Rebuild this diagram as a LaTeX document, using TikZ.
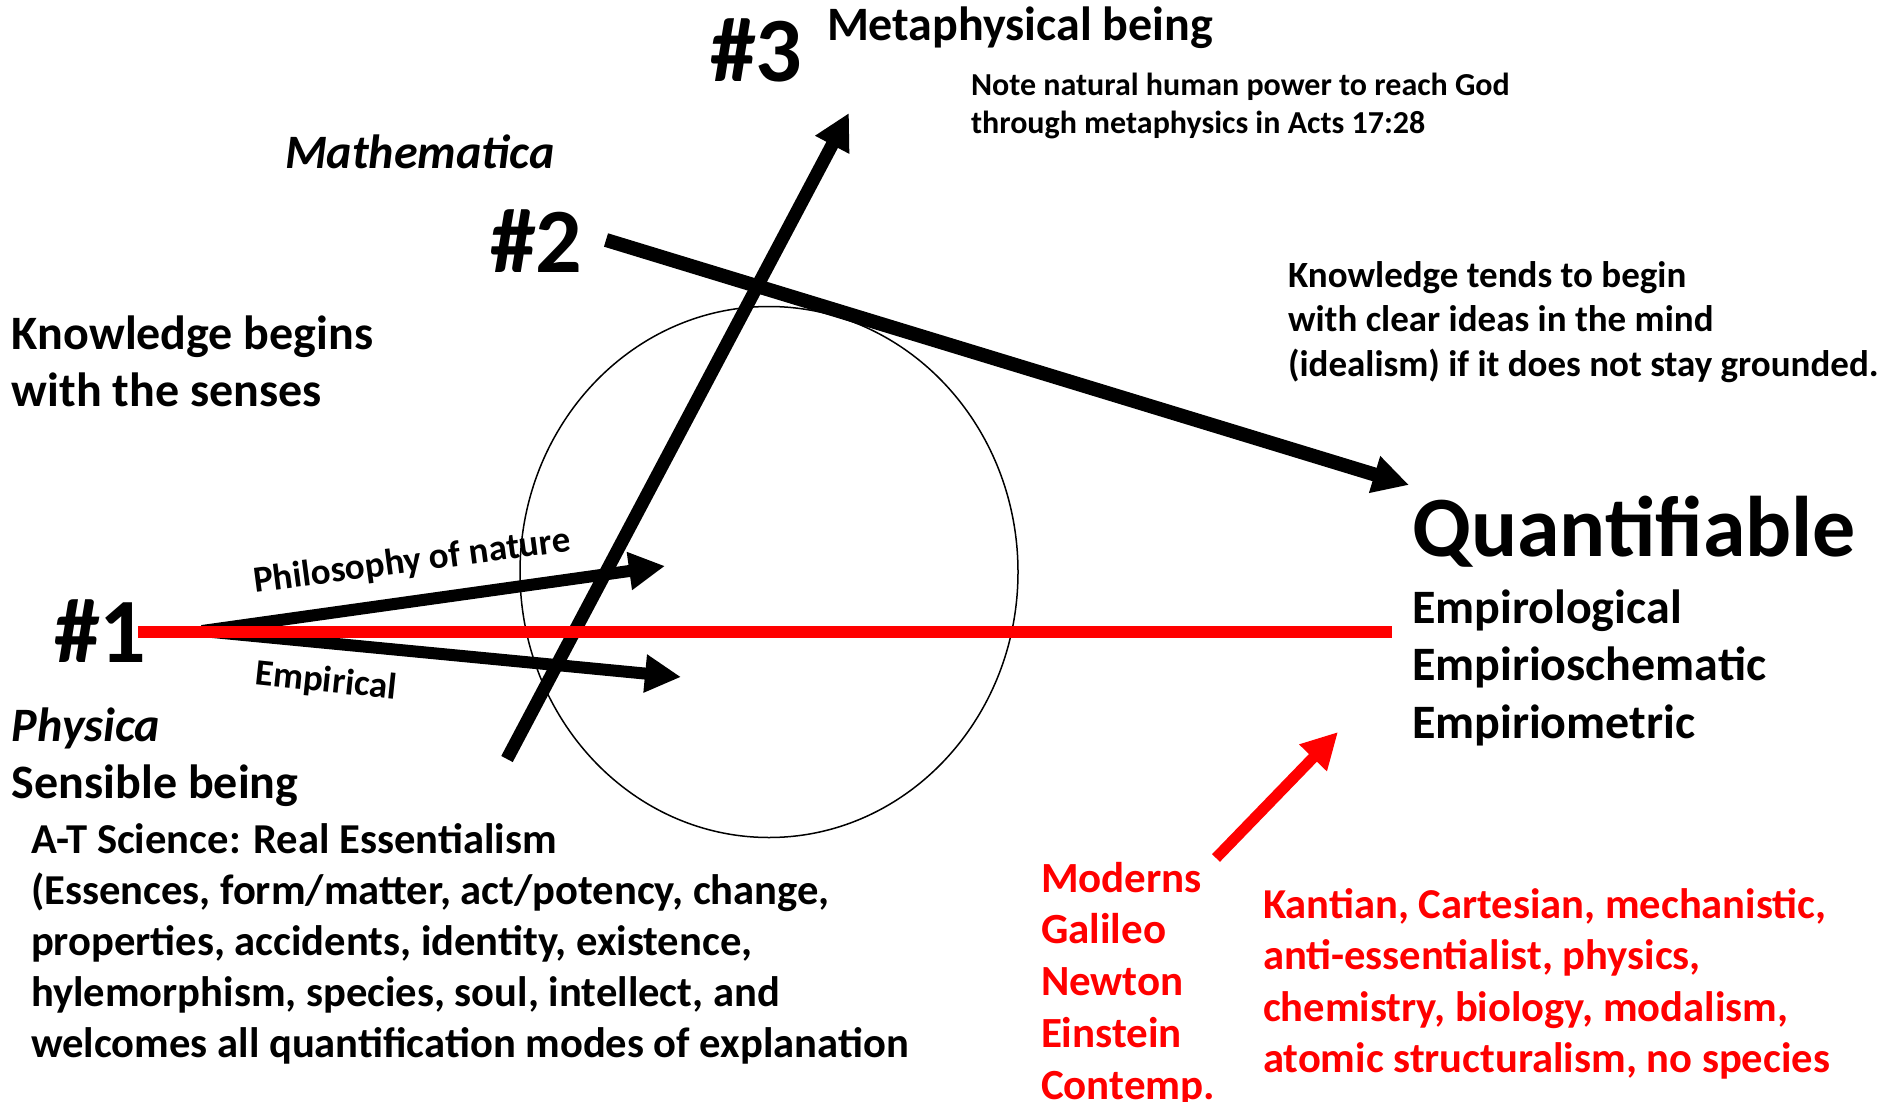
\documentclass[tikz,border=0pt]{standalone}
\usepackage{fontspec}
\setmainfont{Carlito}
\usetikzlibrary{arrows.meta,shapes.geometric}
\definecolor{pred}{RGB}{255,0,0}
\newcommand{\fs}[2]{\fontsize{#1}{#2}\selectfont}
\begin{document}
\begin{tikzpicture}[x=1pt,y=-1pt,
  txt/.style={inner sep=0pt,outer sep=0pt,anchor=base west,align=left,font=\bfseries},
  blk/.style={line width=12pt,-{Triangle[length=36pt,width=36pt]}},
  rdarr/.style={line width=11pt,pred,-{Triangle[length=36pt,width=36pt]}},
]
\useasboundingbox (0,0) rectangle (1887,1102);
% circle
\node (circ) [draw,line width=1.5pt,ellipse,minimum width=498pt,minimum height=531pt,inner sep=0pt] at (769,572) {};
% coordinates
\coordinate (o1) at (202,631);
\coordinate (pn) at (665,566);
\coordinate (em) at (681,677);
\coordinate (s3) at (507,759);
\coordinate (t3) at (849,113);
\coordinate (s2) at (606,240);
\coordinate (t2) at (1409,485);
\coordinate (rl) at (138,632);
\coordinate (rr) at (1392,632);
\coordinate (rs) at (1216,858);
\coordinate (rt) at (1338,732);
% arrows
\draw[blk,line width=13pt] (s3) -- (t3);
\draw[blk] (o1) -- (pn);
\draw[blk] (o1) -- (em);
\draw[blk,line width=14pt] (s2) -- (t2);
\draw[pred,line width=12pt] (rl) -- (rr);
\draw[rdarr] (rs) -- (rt);
% texts (multi-line nodes: base = baseline of the last line)
\node[txt,font=\bfseries\fs{92}{110}] (n3) at (710,82) {\#3};
\node[txt,font=\bfseries\fs{48}{58}] (meta) at (827,41) {Metaphysical being};
\node[txt,font=\bfseries\fs{32}{38.5}] (note) at (971,134) {Note natural human power to reach God\\through metaphysics in Acts 17:28};
\node[txt,font=\bfseries\itshape\fs{48}{58}] (math) at (285,169) {Mathematica};
\node[txt,font=\bfseries\fs{92}{110}] (n2) at (490,272) {\#2};
\node[txt,font=\bfseries\fs{48}{57}] (kb) at (12,406) {Knowledge begins\\with the senses};
\node[txt,font=\bfseries\fs{37}{44.5}] (kt) at (1288,376) {Knowledge tends to begin\\with clear ideas in the mind\\(idealism) if it does not stay grounded.};
\node[txt,font=\bfseries\fs{86}{100}] (quant) at (1412,556) {Quantifiable};
\node[txt,font=\bfseries\fs{48}{57.5}] (emp) at (1412,738) {Empirological\\Empirioschematic\\Empiriometric};
\node[txt,font=\bfseries\fs{92}{110}] (n1) at (54,662) {\#1};
\node[txt,font=\bfseries\itshape\fs{48}{58}] (phys) at (12,741) {Physica};
\node[txt,font=\bfseries\fs{48}{58}] (sens) at (12,798) {Sensible being};
\node[txt,font=\bfseries\fs{42.6}{51}] (at) at (31,1057) {A-T Science: Real Essentialism\\(Essences, form/matter, act/potency, change,\\properties, accidents, identity, existence,\\hylemorphism, species, soul, intellect, and\\welcomes all quantification modes of explanation};
\node[txt,pred,font=\bfseries\fs{43}{51.7}] (mod) at (1041,1099) {Moderns\\Galileo\\Newton\\Einstein\\Contemp.};
\node[txt,pred,font=\bfseries\fs{42.6}{51.5}] (kant) at (1263,1072.5) {Kantian, Cartesian, mechanistic,\\anti-essentialist, physics,\\chemistry, biology, modalism,\\atomic structuralism, no species};
\node[inner sep=0pt,font=\bfseries\fs{37}{44},rotate=7.5] (phn) at (412,562) {Philosophy of nature};
\node[inner sep=0pt,font=\bfseries\fs{37}{44},rotate=-6] (empl) at (326,682) {Empirical};
\end{tikzpicture}
\end{document}
